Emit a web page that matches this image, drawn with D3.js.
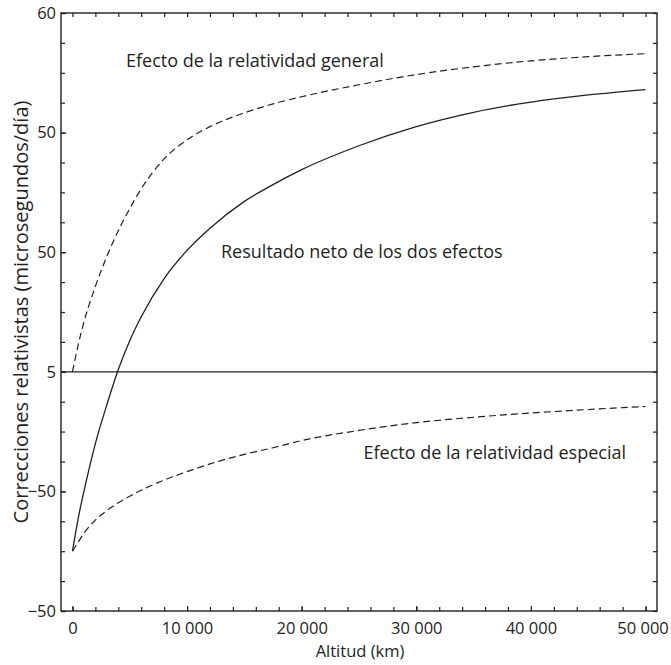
<!DOCTYPE html>
<html>
<head>
<meta charset="utf-8">
<script src="https://cdn.jsdelivr.net/npm/d3@7"></script>
<style>
  body { margin: 0; background: #fff; }
  text { font-family: "Open Sans", sans-serif; fill: #231f20; }
  .axis path { display: none; }
  .axis line { stroke: #231f20; stroke-width: 1.2; }
  .axis text { font-size: 16.5px; }
</style>
</head>
<body>
<div id="chart"></div>
<script>
// altitude (km) at which the curves were read
var altitudes = [0, 500, 1000, 2000, 3000, 4000, 5000, 6000, 8000, 10000, 12000, 15000,
                 17500, 20000, 25000, 30000, 35000, 40000, 45000, 50000];
// general relativity effect (dashed, upper)
var general = [0, 4.5, 8.3, 14.3, 19.3, 23.6, 27.3, 30.6, 35.6, 38.8, 41, 43.3,
               44.8, 46, 48, 49.7, 51, 52, 52.7, 53.2];
// special relativity effect (dashed, lower)
var especial = [-30, -28.5, -27, -24.8, -23.2, -21.9, -20.8, -19.8, -18.1, -16.7, -15.4, -13.8,
                -12.7, -11.5, -9.8, -8.5, -7.6, -6.9, -6.3, -5.8];
// net result (solid)
var neto = [-30, -24.5, -20, -12, -5.5, 0.4, 5.2, 9.2, 15.6, 20.3, 24, 28.5,
            31.3, 33.8, 37.8, 41, 43.4, 45.1, 46.3, 47.2];

var xTicks = [0, 10000, 20000, 30000, 40000, 50000];
var xTickLabels = ["0", "10 000", "20 000", "30 000", "40 000", "50 000"];
var yTicks = [-40, -20, 0, 20, 40, 60];
var yTickLabels = ["\u221250", "\u221250", "5", "50", "50", "60"];

var margin = {top: 13, right: 14, bottom: 54, left: 61},
    width = 671 - margin.left - margin.right,
    height = 665 - margin.top - margin.bottom;

var svg = d3.select("#chart").append("svg")
    .attr("width", width + margin.left + margin.right)
    .attr("height", height + margin.top + margin.bottom)
  .append("g")
    .attr("transform", "translate(" + margin.left + "," + margin.top + ")");

var x = d3.scaleLinear()
    .domain([-1000, 51000])
    .range([0, width]);

var y = d3.scaleLinear()
    .domain([-40, 60])
    .range([height, 0]);

var xMinor = d3.range(0, 50001, 2000);
var yMinor = d3.range(-40, 61, 5);

// bottom axis with labels
var xAxisG = svg.append("g")
    .attr("class", "axis")
    .attr("transform", "translate(0," + height + ")")
    .call(d3.axisBottom(x).tickValues(xTicks).tickSize(-5).tickPadding(11)
        .tickFormat(function(d, i) { return xTickLabels[i]; }));

// last label sits right at the page edge
xAxisG.selectAll(".tick text")
    .filter(function(d) { return d === 50000; })
    .attr("dx", -3);

svg.append("g")
    .attr("class", "axis")
    .attr("transform", "translate(0," + height + ")")
    .call(d3.axisBottom(x).tickValues(xMinor).tickSize(-4).tickFormat(""));

// top axis, ticks only
svg.append("g")
    .attr("class", "axis")
    .call(d3.axisTop(x).tickValues(xMinor).tickSize(-4).tickFormat(""));

// left axis with labels
svg.append("g")
    .attr("class", "axis")
    .call(d3.axisLeft(y).tickValues(yTicks).tickSize(-5).tickPadding(5)
        .tickFormat(function(d, i) { return yTickLabels[i]; }));

svg.append("g")
    .attr("class", "axis")
    .call(d3.axisLeft(y).tickValues(yMinor).tickSize(-4).tickFormat(""));

// right axis, ticks only
svg.append("g")
    .attr("class", "axis")
    .attr("transform", "translate(" + width + ",0)")
    .call(d3.axisRight(y).tickValues(yMinor).tickSize(-4).tickFormat(""));

// frame
svg.append("rect")
    .attr("width", width)
    .attr("height", height)
    .attr("fill", "none")
    .attr("stroke", "#231f20")
    .attr("stroke-width", 1.4);

// zero line
svg.append("line")
    .attr("x1", 0)
    .attr("x2", width)
    .attr("y1", y(0))
    .attr("y2", y(0))
    .attr("stroke", "#231f20")
    .attr("stroke-width", 1.2);

var line = d3.line()
    .curve(d3.curveMonotoneX)
    .x(function(d) { return x(d[0]); })
    .y(function(d) { return y(d[1]); });

function pairs(vals) {
  return altitudes.map(function(a, i) { return [a, vals[i]]; });
}

svg.append("path")
    .datum(pairs(general))
    .attr("d", line)
    .attr("fill", "none")
    .attr("stroke", "#231f20")
    .attr("stroke-width", 1.2)
    .attr("stroke-dasharray", "7,4");

svg.append("path")
    .datum(pairs(especial))
    .attr("d", line)
    .attr("fill", "none")
    .attr("stroke", "#231f20")
    .attr("stroke-width", 1.2)
    .attr("stroke-dasharray", "7,4");

svg.append("path")
    .datum(pairs(neto))
    .attr("d", line)
    .attr("fill", "none")
    .attr("stroke", "#231f20")
    .attr("stroke-width", 1.3);

// annotations
svg.append("text")
    .attr("x", 126 - margin.left)
    .attr("y", 67 - margin.top)
    .style("font-size", "18px")
    .text("Efecto de la relatividad general");

svg.append("text")
    .attr("x", 221 - margin.left)
    .attr("y", 258 - margin.top)
    .style("font-size", "18px")
    .text("Resultado neto de los dos efectos");

svg.append("text")
    .attr("x", 626 - margin.left)
    .attr("y", 459 - margin.top)
    .attr("text-anchor", "end")
    .style("font-size", "18px")
    .text("Efecto de la relatividad especial");

// axis titles
svg.append("text")
    .attr("x", width / 2 + 1)
    .attr("y", height + 46)
    .attr("text-anchor", "middle")
    .style("font-size", "16.5px")
    .text("Altitud (km)");

svg.append("text")
    .attr("transform", "translate(" + (-33) + "," + (height / 2) + ") rotate(-90)")
    .attr("text-anchor", "middle")
    .style("font-size", "20px")
    .text("Correcciones relativistas (microsegundos/día)");
</script>
</body>
</html>
